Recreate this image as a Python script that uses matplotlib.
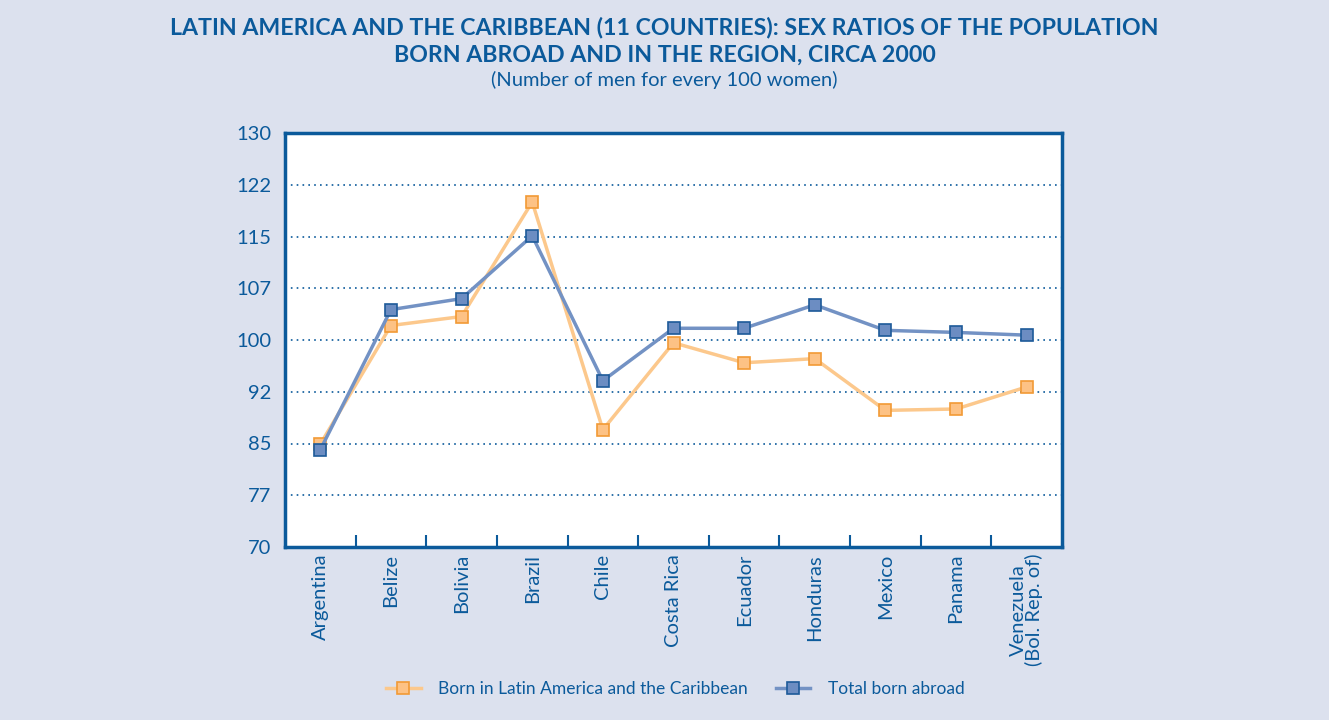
import matplotlib.pyplot as plt
import numpy as np

countries = ['Argentina', 'Belize', 'Bolivia', 'Brazil', 'Chile', 'Costa Rica',
             'Ecuador', 'Honduras', 'Mexico', 'Panama', 'Venezuela\n(Bol. Rep. of)']
born_lac = [84.9, 102.1, 103.4, 120.0, 87.0, 99.6, 96.7, 97.3, 89.8, 90.0, 93.2]
total_abroad = [84.1, 104.4, 106.0, 115.1, 94.1, 101.7, 101.7, 105.1, 101.4, 101.1, 100.7]
yticks = [70, 77.5, 85, 92.5, 100, 107.5, 115, 122.5, 130]
ylabels = ['70', '77', '85', '92', '100', '107', '115', '122', '130']

bg = '#dce1ee'
navy = '#0b5a9b'
plt.rcParams['font.family'] = ['Lato', 'DejaVu Sans']

fig = plt.figure(figsize=(13.29, 7.2), dpi=100, facecolor=bg)
ax = fig.add_axes([285/1329, 1-547/720, 777/1329, 414/720])
x = np.arange(len(countries))

ax.plot(x, born_lac, color='#fcc88c', lw=2.5, marker='s', ms=8.5,
        mfc='#fdc285', mec='#f29a35', mew=1.2, label='Born in Latin America and the Caribbean', zorder=3)
ax.plot(x, total_abroad, color='#7392c4', lw=2.5, marker='s', ms=8.5,
        mfc='#6c8dc2', mec='#1d5a99', mew=1.2, label='Total born abroad', zorder=4)

ax.set_xlim(-0.5, len(countries) - 0.5)
ax.set_ylim(70, 130)
ax.set_yticks(yticks)
ax.set_yticklabels(ylabels)
ax.tick_params(axis='y', length=0, labelsize=14.5, labelcolor=navy, pad=10)
ax.set_xticks(x)
ax.set_xticklabels(countries, rotation=90, va='top', ha='center', fontsize=14.5, color=navy,
                   linespacing=0.85)
ax.tick_params(axis='x', which='major', length=0, pad=5)
ax.set_xticks(x[:-1] + 0.5, minor=True)
ax.tick_params(axis='x', which='minor', direction='in', length=9, width=1.5, color=navy)

for y in yticks[1:-1]:
    ax.axhline(y, color=navy, lw=1.2, ls=(0, (1, 2.5)), zorder=1)

for s in ax.spines.values():
    s.set_color(navy)
    s.set_linewidth(2.5)

fig.text(0.5, 1-28/720, 'LATIN AMERICA AND THE CARIBBEAN (11 COUNTRIES): SEX RATIOS OF THE POPULATION',
         ha='center', va='center', fontsize=16.7, fontweight='bold', color=navy)
fig.text(0.5, 1-55/720, 'BORN ABROAD AND IN THE REGION, CIRCA 2000',
         ha='center', va='center', fontsize=16.7, fontweight='bold', color=navy)
fig.text(0.5, 1-80/720, '(Number of men for every 100 women)',
         ha='center', va='center', fontsize=14.5, color=navy)

leg = fig.legend(loc='center', bbox_to_anchor=(0.508, 1-689/720), ncol=2, frameon=False,
                 fontsize=12.5, handlelength=2.0, handletextpad=1.0, columnspacing=1.6)
for t in leg.get_texts():
    t.set_color(navy)

fig.savefig('out.png', dpi=100, facecolor=bg)
